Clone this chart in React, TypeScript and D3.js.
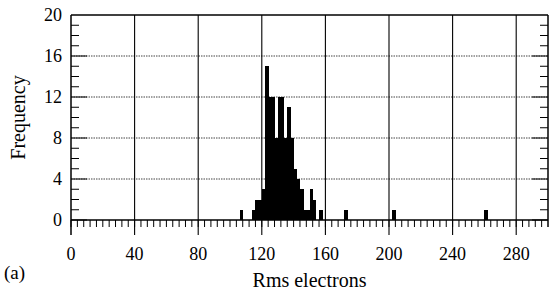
import React from "react";
import { scaleLinear, range } from "d3";

// histogram bins (lower edge, Rms electrons) and their counts, bin width 2
const binStarts = [106, 114, 116, 118, 120, 122, 124, 126, 128, 130, 132, 134, 136, 138, 140, 142, 144, 146, 148, 150, 152, 154, 156, 172, 202, 260];
const counts = [1, 1, 2, 2, 3, 15, 12, 12, 8, 12, 12, 8, 11, 8, 5, 4, 3, 1, 1, 3, 2, 0, 1, 1, 1, 1];
const binWidth = 2;

const xTicks = [0, 40, 80, 120, 160, 200, 240, 280];
const yTicks = [0, 4, 8, 12, 16, 20];

function App() {
  const width = 557;
  const height = 292;
  const margin = { top: 15, right: 9, bottom: 72, left: 71 };
  const font = "'Liberation Serif', 'Times New Roman', Times, 'DejaVu Serif', serif";

  const xScale = scaleLinear().domain([0, 300]).range([margin.left, width - margin.right]);
  const yScale = scaleLinear().domain([0, 20]).range([height - margin.bottom, margin.top]);

  const x0 = xScale(0);
  const x1 = xScale(300);
  const yb = yScale(0);
  const yt = yScale(20);

  const xMinor = range(0, 300, 4);
  const yMinor = range(0, 20, 1);

  return (
    <svg width={width} height={height} style={{ position: "absolute", left: 0, top: 0, fontFamily: font }}>
      <rect width={width} height={height} fill="white" />

      {/* horizontal dotted grid */}
      {yTicks.filter(t => t > 0 && t < 20).map(t => (
        <line key={"hg" + t} x1={x0} x2={x1} y1={yScale(t)} y2={yScale(t)}
          stroke="#444" strokeWidth={1} strokeDasharray="1.5,1" />
      ))}

      {/* bars */}
      <g shapeRendering="crispEdges">
        {binStarts.map((b, i) => (
          <rect key={"bar" + i} x={xScale(b)} width={xScale(b + binWidth) - xScale(b) + 0.4}
            y={yScale(counts[i])} height={yb - yScale(counts[i])} fill="black" />
        ))}
      </g>

      {/* vertical grid, running below the axis as major ticks */}
      {xTicks.filter(t => t > 0).map(t => (
        <line key={"vg" + t} x1={xScale(t)} x2={xScale(t)} y1={yt} y2={yb + 15}
          stroke="black" strokeWidth={1.1} />
      ))}

      {/* x minor ticks */}
      {xMinor.map(t => (
        <line key={"xm" + t} x1={xScale(t)} x2={xScale(t)} y1={yb} y2={yb + 7}
          stroke="black" strokeWidth={1} />
      ))}

      {/* y ticks left and right */}
      {yMinor.map(t => (
        <g key={"ym" + t}>
          <line x1={x0} x2={x0 + (t % 4 === 0 ? 16 : 8)} y1={yScale(t)} y2={yScale(t)} stroke="black" strokeWidth={1} />
          <line x1={x1} x2={x1 - (t % 4 === 0 ? 16 : 8)} y1={yScale(t)} y2={yScale(t)} stroke="black" strokeWidth={1} />
        </g>
      ))}

      {/* frame */}
      <line x1={x0} x2={x1} y1={yt} y2={yt} stroke="black" strokeWidth={1.5} />
      <line x1={x0} x2={x1} y1={yb} y2={yb} stroke="black" strokeWidth={1.5} />
      <line x1={x0} x2={x0} y1={yt} y2={yb + 15} stroke="black" strokeWidth={1.5} />
      <line x1={x1} x2={x1} y1={yt} y2={yb + 7} stroke="black" strokeWidth={1.5} />

      {/* tick labels */}
      {yTicks.map(t => (
        <text key={"yl" + t} x={62} y={yScale(t) + 6} textAnchor="end" fontSize={18}>{t}</text>
      ))}
      {xTicks.map(t => (
        <text key={"xl" + t} x={xScale(t)} y={260} textAnchor="middle" fontSize={18}>{t}</text>
      ))}

      <text x={(x0 + x1) / 2} y={287} textAnchor="middle" fontSize={20}>Rms electrons</text>
      <text x={4} y={279} fontSize={19}>(a)</text>
      <text transform={`translate(25, ${(yt + yb) / 2}) rotate(-90)`} textAnchor="middle" fontSize={20}>Frequency</text>
    </svg>
  );
}

export default App;
